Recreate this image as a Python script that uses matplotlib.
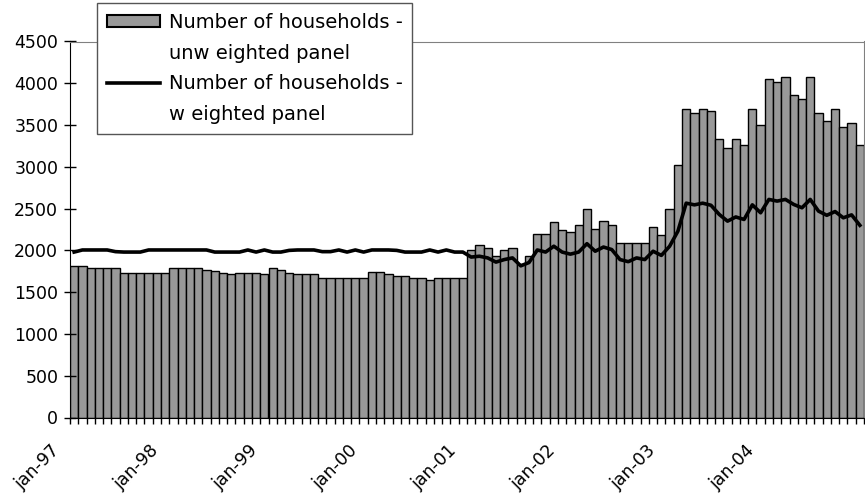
import matplotlib
matplotlib.use("Agg")
import matplotlib.pyplot as plt
import matplotlib.transforms as mtransforms
from matplotlib.lines import Line2D
from matplotlib.patches import Patch
import numpy as np

# monthly values, jan-97 .. dec-04
unweighted = [
    1810, 1810, 1785, 1785, 1785, 1785, 1735, 1735, 1735, 1735, 1735, 1735,
    1785, 1785, 1785, 1785, 1765, 1755, 1735, 1715, 1735, 1735, 1735, 1715,
    1785, 1760, 1735, 1715, 1715, 1715, 1665, 1665, 1665, 1665, 1665, 1665,
    1740, 1740, 1720, 1695, 1695, 1665, 1665, 1640, 1665, 1665, 1665, 1665,
    2010, 2070, 2025, 1935, 2010, 2030, 1840, 1930, 2195, 2195, 2340, 2240,
    2220, 2300, 2490, 2250, 2350, 2305, 2090, 2090, 2090, 2090, 2280, 2185,
    2495, 3025, 3690, 3645, 3690, 3670, 3330, 3230, 3330, 3265, 3690, 3500,
    4050, 4010, 4075, 3860, 3810, 4075, 3645, 3550, 3690, 3480, 3525, 3265,
]
weighted = [
    1980, 2005, 2005, 2005, 2005, 1985, 1980, 1980, 1980, 2005, 2005, 2005,
    2005, 2005, 2005, 2005, 2005, 1980, 1980, 1980, 1980, 2005, 1980, 2005,
    1980, 1980, 2000, 2005, 2005, 2005, 1985, 1985, 2005, 1980, 2005, 1980,
    2005, 2005, 2005, 2000, 1980, 1980, 1980, 2005, 1980, 2005, 1980, 1980,
    1920, 1930, 1910, 1860, 1890, 1910, 1815, 1855, 2005, 1980, 2050, 1980,
    1955, 1980, 2080, 1990, 2040, 2010, 1890, 1865, 1910, 1890, 1990, 1940,
    2050, 2230, 2565, 2545, 2565, 2540, 2430, 2350, 2400, 2370, 2545, 2450,
    2610, 2590, 2610, 2550, 2510, 2610, 2470, 2420, 2465, 2390, 2425, 2300,
]
year_labels = ["jan-97", "jan-98", "jan-99", "jan-00",
               "jan-01", "jan-02", "jan-03", "jan-04"]
y_ticks = [0, 500, 1000, 1500, 2000, 2500, 3000, 3500, 4000, 4500]

plt.rcParams["font.family"] = ["DejaVu Sans"]

fig = plt.figure(figsize=(8.65, 4.99), dpi=100)
ax = fig.add_axes([70 / 865, 1 - 417.5 / 499, 794 / 865, 376 / 499])

x = np.arange(len(unweighted))
ax.bar(x, unweighted, width=1.0, color="#999999", edgecolor="black", linewidth=1.0)
ax.plot(x, weighted, color="black", linewidth=2.6)

ax.set_xlim(-0.5, len(unweighted) - 0.5)
ax.set_ylim(0, 4500)
ax.set_yticks(y_ticks)
ax.tick_params(axis="y", direction="inout", length=9, width=1, labelsize=12.5, pad=4)

ax.set_xticks(x[::12])
ax.set_xticklabels(year_labels, rotation=45, ha="right", va="top")
ax.set_xticks(np.arange(-0.5, len(unweighted), 1), minor=True)
ax.tick_params(axis="x", which="major", length=0, labelsize=12.5, pad=17)
ax.tick_params(axis="x", which="minor", direction="out", length=4.3, width=1)
shift = mtransforms.ScaledTranslation(-11 / 100, 0, fig.dpi_scale_trans)
for lab in ax.get_xticklabels():
    lab.set_transform(lab.get_transform() + shift)

for s in ["top", "right"]:
    ax.spines[s].set_color("#808080")
for s in ["left", "bottom"]:
    ax.spines[s].set_color("black")

handles = [
    Patch(facecolor="#999999", edgecolor="black", linewidth=1.5),
    Line2D([], [], linestyle="none"),
    Line2D([], [], color="black", linewidth=2.6),
    Line2D([], [], linestyle="none"),
]
labels = ["Number of households -", "unw eighted panel",
          "Number of households -", "w eighted panel"]
leg = fig.legend(handles, labels, loc="upper left",
                 bbox_to_anchor=(97 / 865, 1 - 3 / 499),
                 bbox_transform=fig.transFigure, borderaxespad=0,
                 fontsize=14, frameon=True, fancybox=False, framealpha=1,
                 edgecolor="#555555", handlelength=2.73, handleheight=0.57,
                 handletextpad=0.46, labelspacing=0.61, borderpad=0.5)
leg.get_frame().set_linewidth(1.0)

fig.savefig("out.png", dpi=100)
